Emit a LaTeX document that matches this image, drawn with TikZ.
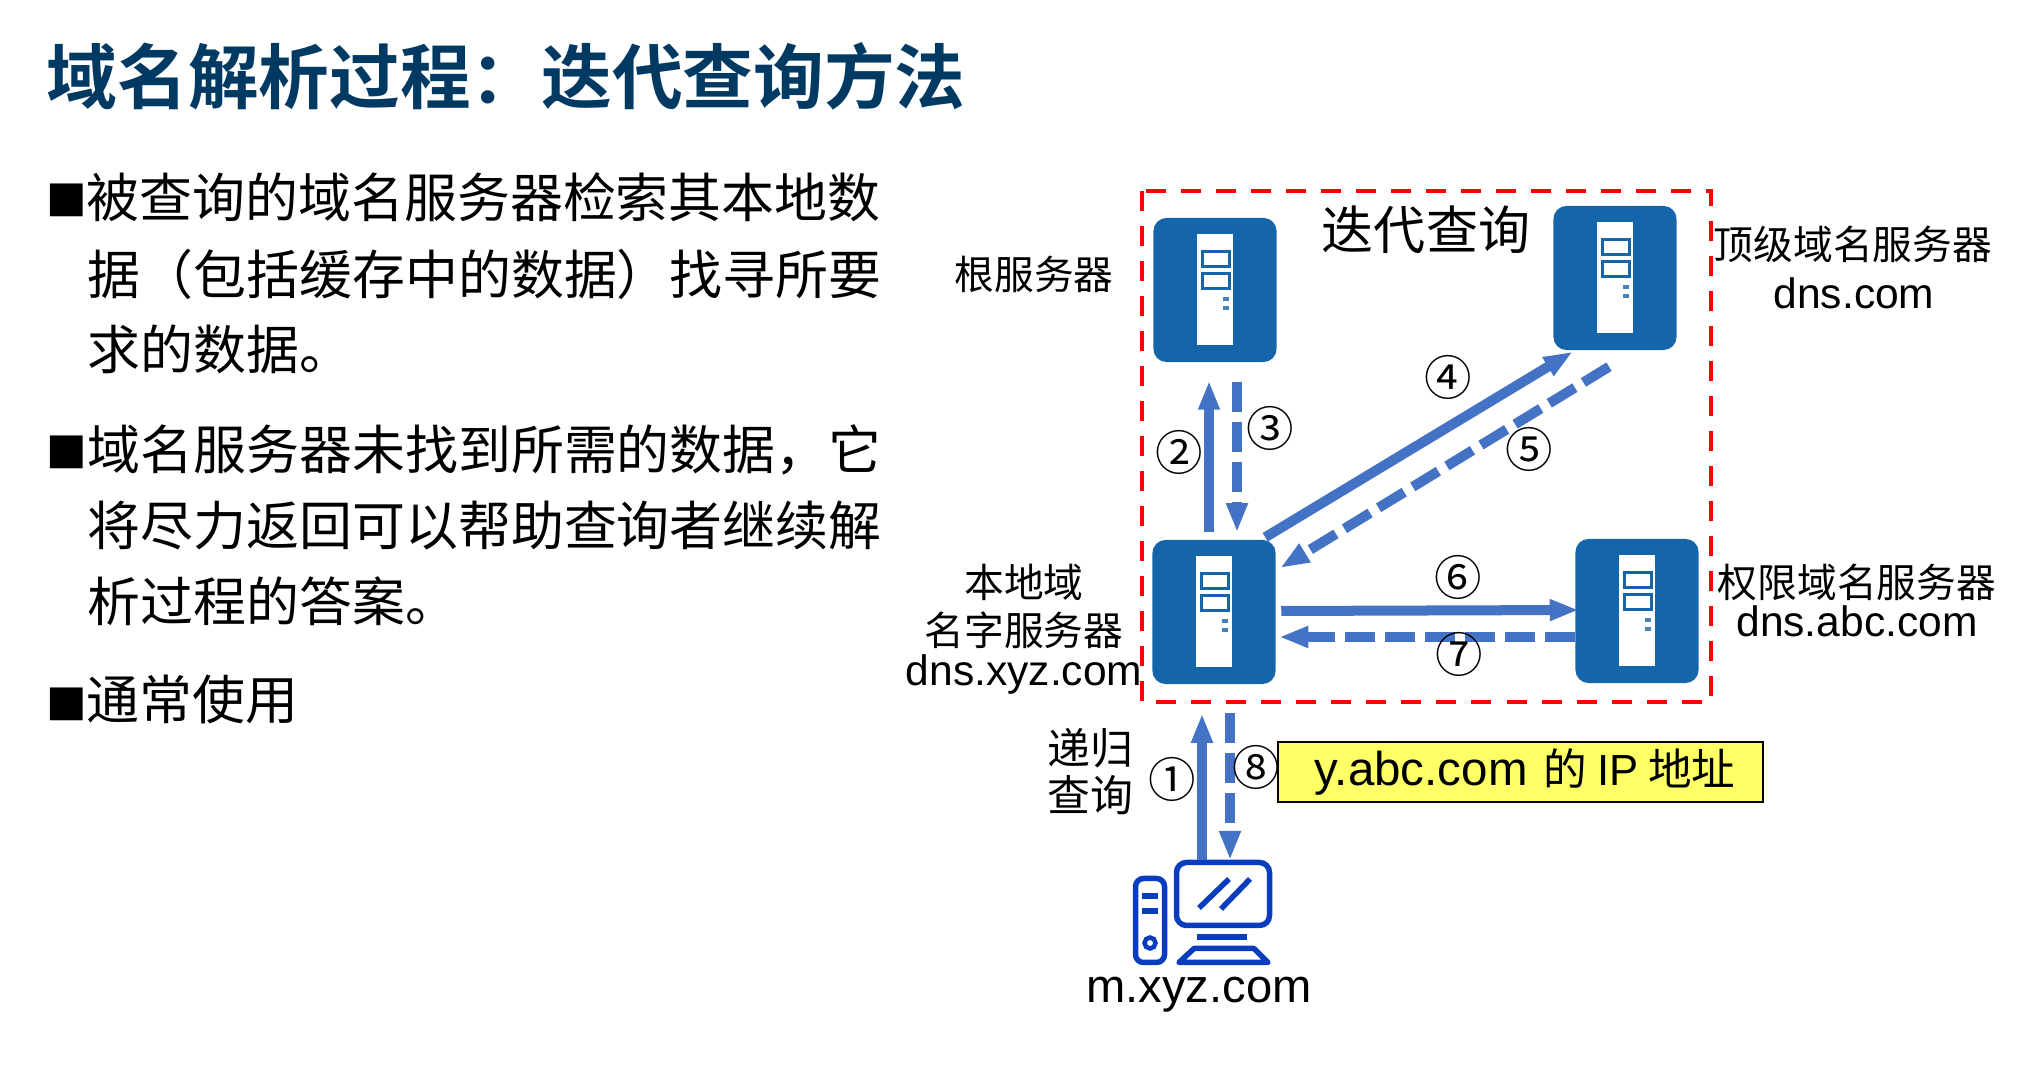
\documentclass[tikz,border=0pt]{standalone}
\usepackage{fontspec}
\setmainfont{Noto Sans CJK SC}[BoldFont={* Bold}]
\newfontfamily\latinfont{Liberation Sans}
\newfontfamily\symbolfont{DejaVu Sans}
\usetikzlibrary{arrows.meta,calc}
\definecolor{titleblue}{HTML}{003A63}
\definecolor{serverblue}{HTML}{1565AB}
\definecolor{arrowblue}{HTML}{4472C4}
\definecolor{hostblue}{HTML}{0A3DBE}
\definecolor{notefill}{HTML}{FFFF66}
\tikzset{
  serverbox/.style={fill=serverblue,rounded corners=0.13cm,minimum width=1.23cm,minimum height=1.44cm,inner sep=0pt},
  querysolid/.style={arrowblue,line width=0.1cm,-{Triangle[length=0.29cm,width=0.2cm]}},
  querydash/.style={querysolid,dash pattern=on 0.3cm off 0.1cm},
  hostline/.style={hostblue,line width=0.055cm},
  bodyline/.style={anchor=base west,inner sep=0pt,font=\fontsize{15.05}{18}\selectfont},
  lbl/.style={inner sep=0pt,font=\fontsize{11.3}{14}\selectfont},
  latinlbl/.style={inner sep=0pt,font=\latinfont\fontsize{12.1}{14}\selectfont},
  stepnum/.style={inner sep=0pt,font=\fontsize{13.5}{14}\selectfont},
}
\begin{document}
\begin{tikzpicture}[x=0.01cm,y=-0.01cm]
  \useasboundingbox (0,0) rectangle (2036,1074);
  \node[anchor=base west,inner sep=0pt,titleblue,font=\fontsize{20.1}{24}\selectfont\bfseries] (title) at (46,104) {域名解析过程\char"FF1A 迭代查询方法};
  % left text
  \foreach \n/\py in {a/212,b/464,c/716}{
    \node[anchor=base west,inner sep=0pt,font=\symbolfont\fontsize{12.2}{14}\selectfont] (bullet\n) at (46,\py) {■};
  }
  \foreach \n/\px/\py/\txt in {1/86/218/被查询的域名服务器检索其本地数,2/87/295/据\char"FF08 包括缓存中的数据\char"FF09 找寻所要,3/87/370/求的数据。,
    4/87/470/域名服务器未找到所需的数据\char"FF0C 它,5/87/546/将尽力返回可以帮助查询者继续解,6/87/622/析过程的答案。,7/86/720/通常使用}{
    \node[bodyline] (line\n) at (\px,\py) {\txt};
  }
  % dashed area
  \draw[red,line width=0.045cm,dash pattern=on 0.2cm off 0.15cm] (1142,191) rectangle (1711,702);
  \node[inner sep=0pt,font=\fontsize{14.8}{18}\selectfont] (iterlbl) at (1426,230) {迭代查询};
  % servers
  \foreach \name/\px/\py in {rootsrv/1215/290,tldsrv/1615/278,localsrv/1214/612,authsrv/1637/611}{
    \node[serverbox] (\name) at (\px,\py) {};
    \begin{scope}[shift={(\px,\py)}]
      \fill[white] (-18,-56) rectangle (18,55);
      \foreach \ya in {-38,-16}{\draw[serverblue,fill=white,line width=0.03cm] (-13,\ya) rectangle (14,\ya+15);}
      \foreach \yb in {9,18}{\fill[serverblue!80] (8,\yb-2) rectangle (14,\yb+2);}
    \end{scope}
  }
  % host
  \coordinate (host) at (1223,860);
  \draw[hostline,rounded corners=0.08cm] (1135.5,878.5) rectangle (1164.5,962.5);
  \foreach \yc in {896,911}{\draw[hostline] (1142,\yc)--(1158,\yc);}
  \draw[hostblue,line width=0.045cm] (1150,943) circle (5.5);
  \draw[hostline,rounded corners=0.1cm] (1176.5,862.5) rectangle (1269.5,925.5);
  \draw[hostline] (1199,908)--(1229,879);
  \draw[hostline] (1221,909)--(1250,879);
  \draw[hostline] (1197,937)--(1247,937);
  \draw[hostline,line join=round] (1179,962.5)--(1194,948.5)--(1254,948.5)--(1268,962.5)--cycle;
  % labels
  \node[lbl] (rootlbl) at (1034,274) {根服务器};
  \node[lbl] (tldlbl) at (1853,244) {顶级域名服务器};
  \node[latinlbl] (tlddns) at (1854,293) {dns.com};
  \node[lbl] (locallbla) at (1024,582) {本地域};
  \node[lbl] (locallblb) at (1024,630) {名字服务器};
  \node[latinlbl] (localdns) at (1024,675) {dns.xyz.com};
  \node[lbl] (authlbl) at (1857,582) {权限域名服务器};
  \node[latinlbl] (authdns) at (1857,621) {dns.abc.com};
  \node[lbl,font=\fontsize{12.2}{14}\selectfont] (recura) at (1090,748) {递归};
  \node[lbl,font=\fontsize{12.2}{14}\selectfont] (recurb) at (1090,795) {查询};
  \node[latinlbl,font=\latinfont\fontsize{13.4}{16}\selectfont] (hostlbl) at (1199,995) {m.xyz.com};
  % connectors
  \draw[querysolid] ($(host)+(-21,0)$)--($(localsrv.south)+(-12,29)$);
  \draw[querydash] ($(localsrv.south)+(16,28)$)--($(host)+(7,0)$);
  \draw[querysolid] ($(localsrv.north)+(-5,-7)$)--($(rootsrv.south)+(-6,18)$);
  \draw[querydash] ($(rootsrv.south)+(22,19)$)--($(localsrv.north)+(23,-7)$);
  \draw[querysolid] ($(localsrv.north east)+(-11,-2)$)--($(tldsrv.south west)+(20,1)$);
  \draw[querydash] ($(tldsrv.south)+(-6,16)$)--($(localsrv.east)+(4,-44)$);
  \draw[querysolid] ($(localsrv.east)+(5,-1)$)--($(authsrv.west)+(4,-1)$);
  \draw[querydash] ($(authsrv.west)+(0,26)$)--($(localsrv.east)+(3,25)$);
  \foreach \n/\px/\py/\sym in {a/1172/779/①,b/1179/452/②,c/1270/428/③,d/1448/377/④,e/1529/449/⑤,f/1458/577/⑥,g/1459/654/⑦,h/1256/767/⑧}{
    \node[stepnum] (num\n) at (\px,\py) {\sym};
  }
  \node[draw=black,fill=notefill,line width=0.015cm,minimum width=4.85cm,minimum height=0.6cm,inner sep=0pt,font=\fontsize{12.4}{16}\selectfont] (answer) at (1520.5,772) {\hspace{2.6pt}{\latinfont\fontsize{13.5}{16}\selectfont y.abc.com}\hspace{1.85pt} 的 {\latinfont IP} 地址};
\end{tikzpicture}
\end{document}
